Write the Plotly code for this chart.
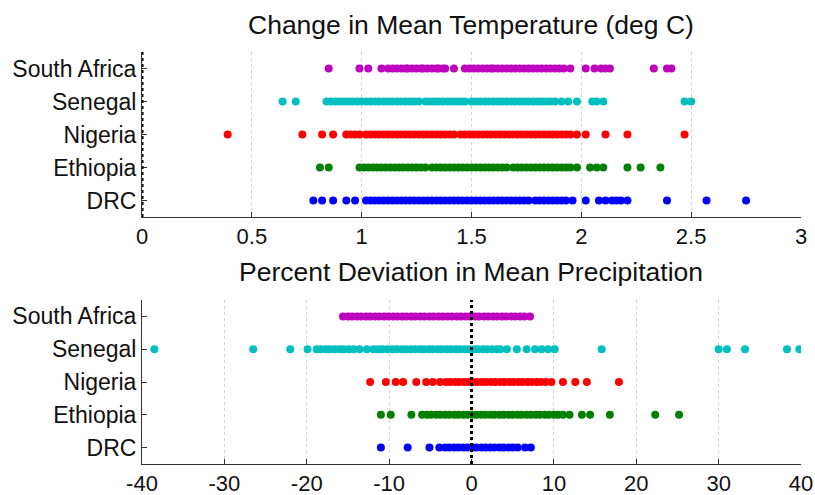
import plotly.graph_objects as go

countries = ["DRC", "Ethiopia", "Nigeria", "Senegal", "South Africa"]
colors = ["#0000FF", "#008000", "#FF0000", "#00BFBF", "#BF00BF"]

title_temp = "Change in Mean Temperature (deg C)"
title_prec = "Percent Deviation in Mean Precipitation"

temp_ticks = [0, 0.5, 1, 1.5, 2, 2.5, 3]
temp_ticklabels = ["0", "0.5", "1", "1.5", "2", "2.5", "3"]
prec_ticks = [-40, -30, -20, -10, 0, 10, 20, 30, 40]
prec_ticklabels = ["-40", "-30", "-20", "-10", "0", "10", "20", "30", "40"]

temp_drc = [0.78, 0.82, 0.87, 0.93, 0.97, 1.02, 1.04, 1.06, 1.08, 1.10, 1.12, 1.14, 1.16,
            1.18, 1.20, 1.22, 1.24, 1.26, 1.28, 1.30, 1.32, 1.34, 1.36, 1.38, 1.40, 1.42,
            1.44, 1.46, 1.48, 1.50, 1.52, 1.54, 1.56, 1.58, 1.60, 1.62, 1.64, 1.66, 1.68,
            1.70, 1.72, 1.74, 1.76, 1.79, 1.81, 1.83, 1.85, 1.87, 1.89, 1.91, 1.93, 1.96,
            2.02, 2.08, 2.11, 2.14, 2.16, 2.18, 2.21, 2.39, 2.57, 2.75]
temp_eth = [0.81, 0.85, 0.99, 1.01, 1.03, 1.05, 1.07, 1.09, 1.11, 1.13, 1.15, 1.17, 1.19,
            1.21, 1.23, 1.25, 1.27, 1.29, 1.32, 1.34, 1.36, 1.38, 1.40, 1.42, 1.44, 1.46,
            1.48, 1.50, 1.52, 1.54, 1.56, 1.58, 1.60, 1.62, 1.64, 1.66, 1.69, 1.71, 1.73,
            1.75, 1.77, 1.79, 1.81, 1.83, 1.85, 1.87, 1.89, 1.91, 1.93, 1.95, 1.98, 2.04,
            2.07, 2.10, 2.21, 2.27, 2.36]
temp_nig = [0.39, 0.73, 0.82, 0.87, 0.93, 0.95, 0.97, 0.99, 1.02, 1.04, 1.06, 1.08, 1.10,
            1.12, 1.14, 1.16, 1.18, 1.20, 1.22, 1.24, 1.26, 1.28, 1.30, 1.32, 1.34, 1.36,
            1.38, 1.40, 1.42, 1.45, 1.47, 1.49, 1.51, 1.53, 1.55, 1.57, 1.59, 1.61, 1.63,
            1.65, 1.67, 1.69, 1.71, 1.73, 1.75, 1.77, 1.79, 1.81, 1.83, 1.85, 1.87, 1.89,
            1.91, 1.93, 1.95, 1.98, 2.02, 2.11, 2.21, 2.47]
temp_sen = [0.64, 0.70, 0.84, 0.86, 0.88, 0.90, 0.92, 0.94, 0.96, 0.98, 1.00, 1.02, 1.04,
            1.06, 1.08, 1.10, 1.12, 1.14, 1.16, 1.18, 1.20, 1.22, 1.24, 1.26, 1.29, 1.31,
            1.33, 1.35, 1.37, 1.39, 1.41, 1.43, 1.45, 1.47, 1.50, 1.52, 1.54, 1.56, 1.58,
            1.60, 1.62, 1.64, 1.66, 1.68, 1.70, 1.72, 1.74, 1.76, 1.78, 1.80, 1.82, 1.84,
            1.86, 1.88, 1.91, 1.94, 1.98, 2.05, 2.07, 2.10, 2.47, 2.50]
temp_saf = [0.85, 0.99, 1.03, 1.09, 1.12, 1.14, 1.16, 1.18, 1.20, 1.21, 1.23, 1.25, 1.27,
            1.28, 1.30, 1.32, 1.34, 1.35, 1.37, 1.38, 1.42, 1.47, 1.49, 1.51, 1.53, 1.55,
            1.57, 1.59, 1.60, 1.62, 1.64, 1.66, 1.68, 1.70, 1.72, 1.74, 1.76, 1.78, 1.80,
            1.82, 1.84, 1.86, 1.88, 1.90, 1.92, 1.95, 2.02, 2.06, 2.09, 2.11, 2.13, 2.33,
            2.39, 2.41]

prec_drc = [-11.0, -7.75, -5.1, -3.9, -3.2, -2.7, -2.1, -1.6, -1.0, -0.5, 0.1, 0.6, 1.2,
            1.7, 2.3, 2.8, 3.4, 3.9, 4.5, 5.0, 5.6, 6.5, 7.2]
prec_eth = [-11.0, -9.8, -7.3, -6.0, -5.4, -4.9, -4.3, -3.8, -3.2, -2.7, -2.1, -1.6, -1.0,
            -0.5, 0.1, 0.6, 1.2, 1.7, 2.3, 2.8, 3.4, 3.9, 4.5, 5.0, 5.6, 6.1, 6.7, 7.2, 7.8,
            8.3, 8.9, 9.4, 10.0, 10.5, 11.1, 11.9, 13.4, 14.4, 16.8, 22.3, 25.2]
prec_nig = [-12.3, -10.4, -9.2, -8.3, -6.7, -5.5, -4.7, -3.8, -3.1, -2.6, -2.0, -1.5, -0.9,
            -0.4, 0.2, 0.7, 1.3, 1.8, 2.4, 2.9, 3.5, 4.0, 4.6, 5.1, 5.7, 6.2, 6.8, 7.3, 7.9,
            8.4, 9.0, 9.7, 11.1, 12.6, 14.0, 17.9]
prec_sen = [-38.5, -26.5, -22.0, -19.9, -18.8, -18.3, -17.7, -17.2, -16.6, -16.0, -15.5,
            -14.9, -14.3, -13.6, -12.7, -11.9, -11.3, -10.8, -10.2, -9.6, -9.1, -8.5, -8.0,
            -7.4, -6.9, -6.3, -5.8, -5.2, -4.7, -4.1, -3.6, -3.0, -2.5, -1.9, -1.4, -0.8,
            -0.3, 0.3, 0.8, 1.4, 1.9, 2.5, 3.1, 3.5, 4.3, 5.5, 6.7, 7.7, 8.5, 9.3, 10.1,
            15.8, 30.0, 31.0, 33.2, 38.3, 39.8]
prec_saf = [-15.6, -15.0, -14.5, -13.9, -13.4, -12.8, -12.3, -11.7, -11.2, -10.6, -10.1,
            -9.5, -9.0, -8.4, -7.9, -7.3, -6.8, -6.2, -5.7, -5.1, -4.6, -4.0, -3.5, -2.9,
            -2.4, -1.8, -1.3, -0.7, -0.2, 0.4, 0.9, 1.5, 2.0, 2.6, 3.1, 3.7, 4.2, 4.8, 5.3,
            5.9, 6.4, 7.1]

temp_series = [temp_drc, temp_eth, temp_nig, temp_sen, temp_saf]
prec_series = [prec_drc, prec_eth, prec_nig, prec_sen, prec_saf]

W, H = 815, 495
fig = go.Figure()

for i, (vals, col) in enumerate(zip(temp_series, colors)):
    fig.add_trace(go.Scatter(x=vals, y=[i + 1] * len(vals), mode="markers",
                             marker=dict(color=col, size=8, line=dict(width=0)),
                             xaxis="x", yaxis="y", showlegend=False))
for i, (vals, col) in enumerate(zip(prec_series, colors)):
    fig.add_trace(go.Scatter(x=vals, y=[i + 1] * len(vals), mode="markers",
                             marker=dict(color=col, size=8, line=dict(width=0)),
                             xaxis="x2", yaxis="y2", showlegend=False))

xdom = [142 / W, 801 / W]
fam = "Liberation Sans, Arial, sans-serif"
xfont = dict(family=fam, size=22, color="#111111")
yfont = dict(family=fam, size=23, color="#111111")

common_x = dict(showgrid=True, gridcolor="#d0d0d0", griddash="dot", gridwidth=1,
                zeroline=False, showline=True, linecolor="#333333", linewidth=1,
                ticks="inside", ticklen=5, tickcolor="#333333", tickfont=xfont,
                mirror=False, automargin=False, fixedrange=True)
common_y = dict(showgrid=False, zeroline=False, showline=True, linecolor="#333333",
                linewidth=1, ticks="inside", ticklen=5, tickcolor="#333333",
                tickfont=yfont, range=[0.5, 5.5], tickvals=[1, 2, 3, 4, 5],
                ticktext=countries, fixedrange=True, automargin=False)

fig.update_layout(
    width=W, height=H,
    margin=dict(l=0, r=0, t=0, b=0, pad=0),
    paper_bgcolor="white", plot_bgcolor="white",
    xaxis=dict(domain=xdom, anchor="y", range=[0, 3], tickvals=temp_ticks,
               ticktext=temp_ticklabels, **common_x),
    yaxis=dict(domain=[1 - 217 / H, 1 - 52 / H], anchor="x", **common_y),
    xaxis2=dict(domain=xdom, anchor="y2", range=[-40, 40], tickvals=prec_ticks,
                ticktext=prec_ticklabels, **common_x),
    yaxis2=dict(domain=[1 - 464 / H, 1 - 300 / H], anchor="x2", **common_y),
    shapes=[
        dict(type="line", xref="x", yref="y", x0=0, x1=0, y0=0.5, y1=5.5,
             line=dict(color="black", width=3, dash="dot")),
        dict(type="line", xref="x2", yref="y2", x0=0, x1=0, y0=0.5, y1=5.5,
             line=dict(color="black", width=3, dash="dot")),
    ],
    annotations=[
        dict(text=title_temp, x=471 / W, y=1 - 25 / H, xref="paper", yref="paper",
             showarrow=False, xanchor="center", yanchor="middle",
             font=dict(family=fam, size=26.5, color="#111111")),
        dict(text=title_prec, x=471 / W, y=1 - 272 / H, xref="paper", yref="paper",
             showarrow=False, xanchor="center", yanchor="middle",
             font=dict(family=fam, size=26.5, color="#111111")),
    ],
)

fig.write_html("out.html", config={"displayModeBar": False},
               post_script="document.body.style.margin='0px';document.body.style.overflow='hidden';")
